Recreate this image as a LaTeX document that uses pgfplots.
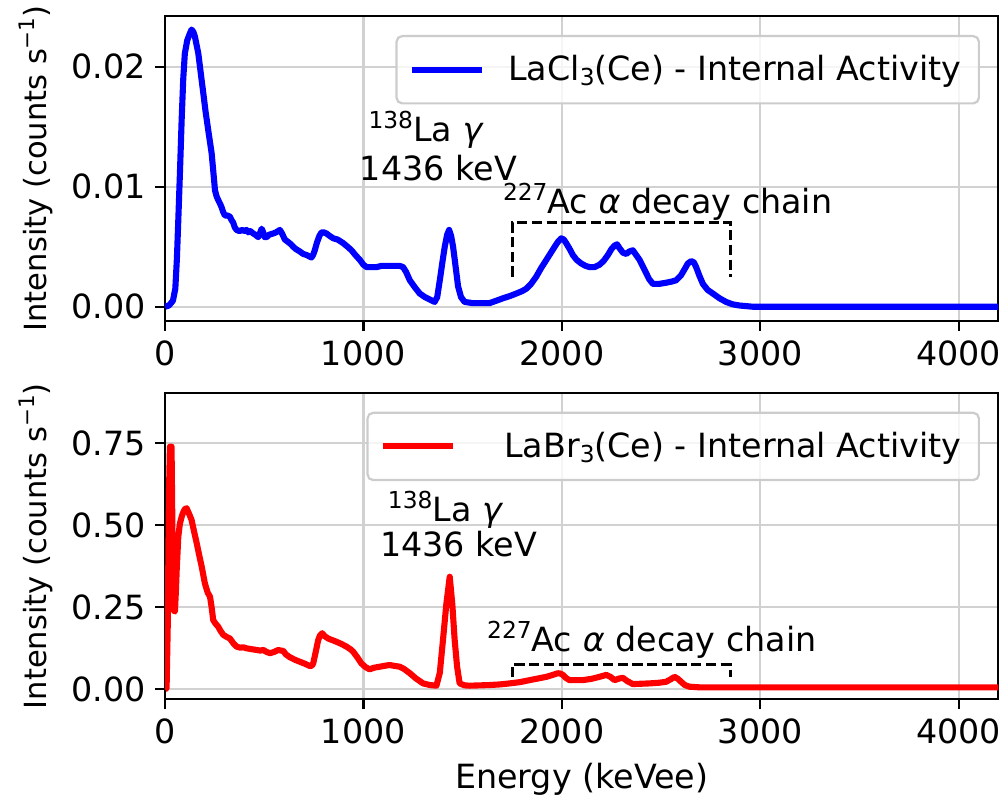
\documentclass[border=0pt]{standalone}
\usepackage{fontspec}
\setmainfont{DejaVu Sans}[ItalicFont={DejaVu Sans Oblique}]
\usepackage{pgfplots}
\pgfplotsset{compat=1.18}

\newcommand{\fs}{\fontsize{12}{14.4}\selectfont}
\newcommand{\fsl}{\fontsize{11}{13.2}\selectfont}
\newcommand{\sups}[1]{\raisebox{4.8pt}{\fontsize{8.4}{9}\selectfont #1}}
\newcommand{\supl}[1]{\raisebox{4.4pt}{\fontsize{7.7}{8}\selectfont #1}}
\newcommand{\subs}[1]{\raisebox{-2.0pt}{\fontsize{8.4}{9}\selectfont #1}}

\pgfplotsset{
  specaxis/.style={
    scale only axis, width=300pt,
    xmin=0, xmax=4200,
    axis line style={black, line width=0.8pt},
    tick align=outside, tick pos=left, major tick length=3.5pt,
    every tick/.style={black, line width=0.8pt},
    grid=major, major grid style={black!18, line width=0.8pt},
    xtick={0,1000,2000,3000,4000},
    scaled y ticks=false, scaled x ticks=false,
    /pgf/number format/assume math mode=true,
    tick label style={font=\fs},
    xticklabel style={/pgf/number format/1000 sep={}},
    yticklabel style={/pgf/number format/.cd, fixed, fixed zerofill, precision=2},
    ylabel={Intensity (counts s\supl{−1})},
    every axis y label/.style={at={([xshift=-46.4pt]rel axis cs:0,0.5)}, anchor=center, rotate=90, font=\fsl},
    legend cell align=left,
    legend image code/.code={\draw[#1] (0pt,0pt) -- (25.2pt,0pt);},
    legend style={draw=black!20, line width=0.8pt, rounded corners=2pt, fill=white,
      fill opacity=0.8, text opacity=1, font=\fs, anchor=north east,
      inner xsep=4.3pt, inner ysep=4.8pt},
    spectrum/.style={line width=2.2pt, line join=round},
  }
}

\begin{document}
\begin{tikzpicture}
\useasboundingbox (0,0) rectangle (359.64pt,288.36pt);

% ---------------- LaCl3(Ce) ----------------
\begin{axis}[specaxis,
  at={(59.4pt,172.8pt)}, anchor=south west, height=109.8pt,
  ymin=-0.00119, ymax=0.02423, ytick={0,0.01,0.02},
  legend style={at={(0.978,0.9377)}},
]
\addplot[blue, spectrum] coordinates {
(0,0) (20,0.0001) (40,0.0005) (52,0.0015) (60,0.004) (67,0.0072) (76,0.0115)
(84,0.0156) (92,0.019) (100,0.0211) (112,0.0222) (126,0.0228) (134,0.0231)
(143,0.0229) (151,0.0225) (168,0.0211) (180,0.0195) (193,0.0178) (205,0.0162)
(218,0.0147) (235,0.0128) (245,0.011) (252,0.0097) (260,0.0092) (268,0.0089)
(277,0.0086) (285,0.0083) (293,0.0079) (302,0.0076) (315,0.0076) (327,0.0075)
(336,0.0072) (344,0.0070) (352,0.0066) (361,0.0064) (375,0.0063) (390,0.0064)
(400,0.0063) (411,0.0064) (420,0.0062) (430,0.0063) (445,0.0061) (455,0.0060)
(470,0.0058) (478,0.0061) (487,0.0065) (495,0.0062) (503,0.0058) (512,0.0058)
(525,0.0060) (545,0.0061) (560,0.0062) (579,0.0064) (590,0.0061) (604,0.0056)
(620,0.0054) (635,0.0052) (646,0.0050) (660,0.0048) (680,0.0046) (696,0.0044)
(715,0.0043) (738,0.0041) (746,0.0043) (755,0.0047) (765,0.0053) (778,0.0059)
(789,0.0062) (800,0.0062) (814,0.0061) (830,0.0059) (848,0.0057) (870,0.0056)
(898,0.0053) (920,0.0050) (940,0.0047) (960,0.0043) (982,0.0039) (1000,0.0035)
(1016,0.0033) (1040,0.0033) (1066,0.0033) (1090,0.0034) (1116,0.0034)
(1150,0.0034) (1183,0.0034) (1200,0.0033) (1215,0.0029) (1234,0.0022)
(1260,0.0016) (1284,0.0011) (1310,0.0008) (1334,0.0006) (1359,0.0004)
(1372,0.0008) (1385,0.0022) (1398,0.0037) (1410,0.0050) (1422,0.0060)
(1432,0.0064) (1442,0.0059) (1452,0.0050) (1465,0.0033) (1477,0.0017)
(1492,0.0008) (1510,0.0004) (1550,0.0003) (1586,0.0003) (1636,0.0003)
(1670,0.0005) (1703,0.0007) (1740,0.0009) (1771,0.0011) (1800,0.0013)
(1821,0.0015) (1845,0.0019) (1871,0.0025) (1895,0.0032) (1922,0.0039)
(1945,0.0045) (1964,0.0050) (1980,0.0054) (1997,0.0057) (2010,0.0056)
(2022,0.0053) (2040,0.0048) (2056,0.0043) (2075,0.0039) (2098,0.0036)
(2120,0.0034) (2140,0.0033) (2165,0.0033) (2190,0.0035) (2210,0.0038)
(2232,0.0043) (2250,0.0048) (2266,0.0051) (2278,0.0052) (2290,0.0049)
(2308,0.0045) (2325,0.0044) (2340,0.0046) (2358,0.0047) (2375,0.0043)
(2392,0.0039) (2410,0.0033) (2425,0.0028) (2440,0.0023) (2459,0.0019)
(2490,0.0019) (2526,0.0020) (2555,0.0021) (2576,0.0022) (2600,0.0026)
(2618,0.0031) (2635,0.0036) (2652,0.0038) (2665,0.0037) (2677,0.0033)
(2693,0.0026) (2711,0.0019) (2735,0.0014) (2761,0.0011) (2795,0.0007)
(2828,0.0004) (2860,0.0002) (2895,0.0001) (2962,0) (4200,0)
};
\addlegendentry{\hspace{6.5pt}LaCl\subs{3}(Ce) - Internal Activity}
\addplot[black, line width=1pt, dash pattern=on 3.7pt off 1.6pt, forget plot]
  coordinates {(1750,0.0025) (1750,0.007) (2850,0.007) (2850,0.0025)};
\node[anchor=base west, inner sep=0pt, font=\fs] at (axis cs:1023,0.01375) {\sups{138}La \textit{γ}};
\node[anchor=base west, inner sep=0pt, font=\fs] at (axis cs:980,0.01056) {1436 keV};
\node[anchor=base west, inner sep=0pt, font=\fs] at (axis cs:1701,0.00778) {\sups{227}Ac \textit{α} decay chain};
\end{axis}

% ---------------- LaBr3(Ce) ----------------
\begin{axis}[specaxis,
  at={(59.4pt,36.6pt)}, anchor=south west, height=110.16pt,
  ymin=-0.0305, ymax=0.9024, ytick={0,0.25,0.5,0.75},
  legend style={at={(0.978,0.9399)}},
  xlabel={Energy (keVee)},
  every axis x label/.style={at={([yshift=-28.7pt]rel axis cs:0.5,0)}, anchor=center, font=\fs},
]
\addplot[red, spectrum] coordinates {
(0,0.0) (8,0.003) (14,0.2) (20,0.6) (25,0.74) (33,0.74) (38,0.45) (42,0.242)
(50,0.237) (55,0.30) (59,0.364) (67,0.465) (75,0.505) (84,0.526) (92,0.540)
(100,0.549) (109,0.552) (117,0.541) (125,0.530) (134,0.516) (147,0.480)
(160,0.445) (172,0.410) (185,0.374) (201,0.323) (215,0.295) (227,0.282)
(235,0.250) (243,0.211) (255,0.200) (268,0.191) (280,0.178) (294,0.166)
(310,0.160) (327,0.155) (345,0.140) (361,0.130) (380,0.127) (395,0.128)
(411,0.125) (440,0.122) (462,0.120) (480,0.118) (495,0.120) (512,0.114)
(529,0.110) (550,0.114) (571,0.120) (585,0.118) (596,0.117) (610,0.106)
(629,0.098) (655,0.090) (680,0.084) (705,0.078) (730,0.071) (740,0.072)
(747,0.079) (760,0.115) (772,0.150) (782,0.165) (792,0.171) (805,0.162)
(822,0.155) (843,0.150) (864,0.145) (890,0.138) (915,0.130) (935,0.122)
(948,0.115) (970,0.097) (990,0.079) (1010,0.068) (1031,0.061) (1055,0.066)
(1083,0.069) (1110,0.072) (1133,0.074) (1160,0.071) (1183,0.069) (1205,0.062)
(1234,0.049) (1265,0.033) (1301,0.018) (1335,0.013) (1368,0.011) (1385,0.050)
(1401,0.150) (1418,0.260) (1435,0.343) (1448,0.260) (1460,0.150) (1472,0.070)
(1485,0.018) (1510,0.012) (1536,0.011) (1586,0.012) (1636,0.013) (1690,0.015)
(1737,0.018) (1790,0.022) (1838,0.028) (1880,0.033) (1922,0.038) (1955,0.044)
(1980,0.049) (1993,0.048) (2005,0.044) (2022,0.034) (2039,0.028) (2070,0.028)
(2106,0.028) (2150,0.032) (2190,0.038) (2224,0.044) (2245,0.038) (2266,0.028)
(2290,0.033) (2308,0.035) (2330,0.025) (2358,0.016) (2400,0.017) (2442,0.018)
(2490,0.020) (2526,0.023) (2550,0.031) (2568,0.038) (2585,0.032) (2601,0.023)
(2620,0.013) (2643,0.008) (2694,0.006) (4200,0.006)
};
\addlegendentry{\hspace{15.5pt}LaBr\subs{3}(Ce) - Internal Activity}
\addplot[black, line width=1pt, dash pattern=on 3.7pt off 1.6pt, forget plot]
  coordinates {(1750,0.037) (1750,0.075) (2850,0.075) (2850,0.037)};
\node[anchor=base west, inner sep=0pt, font=\fs] at (axis cs:1121,0.511) {\sups{138}La \textit{γ}};
\node[anchor=base west, inner sep=0pt, font=\fs] at (axis cs:1081,0.404) {1436 keV};
\node[anchor=base west, inner sep=0pt, font=\fs] at (axis cs:1621,0.1146) {\sups{227}Ac \textit{α} decay chain};
\end{axis}
\end{tikzpicture}
\end{document}
